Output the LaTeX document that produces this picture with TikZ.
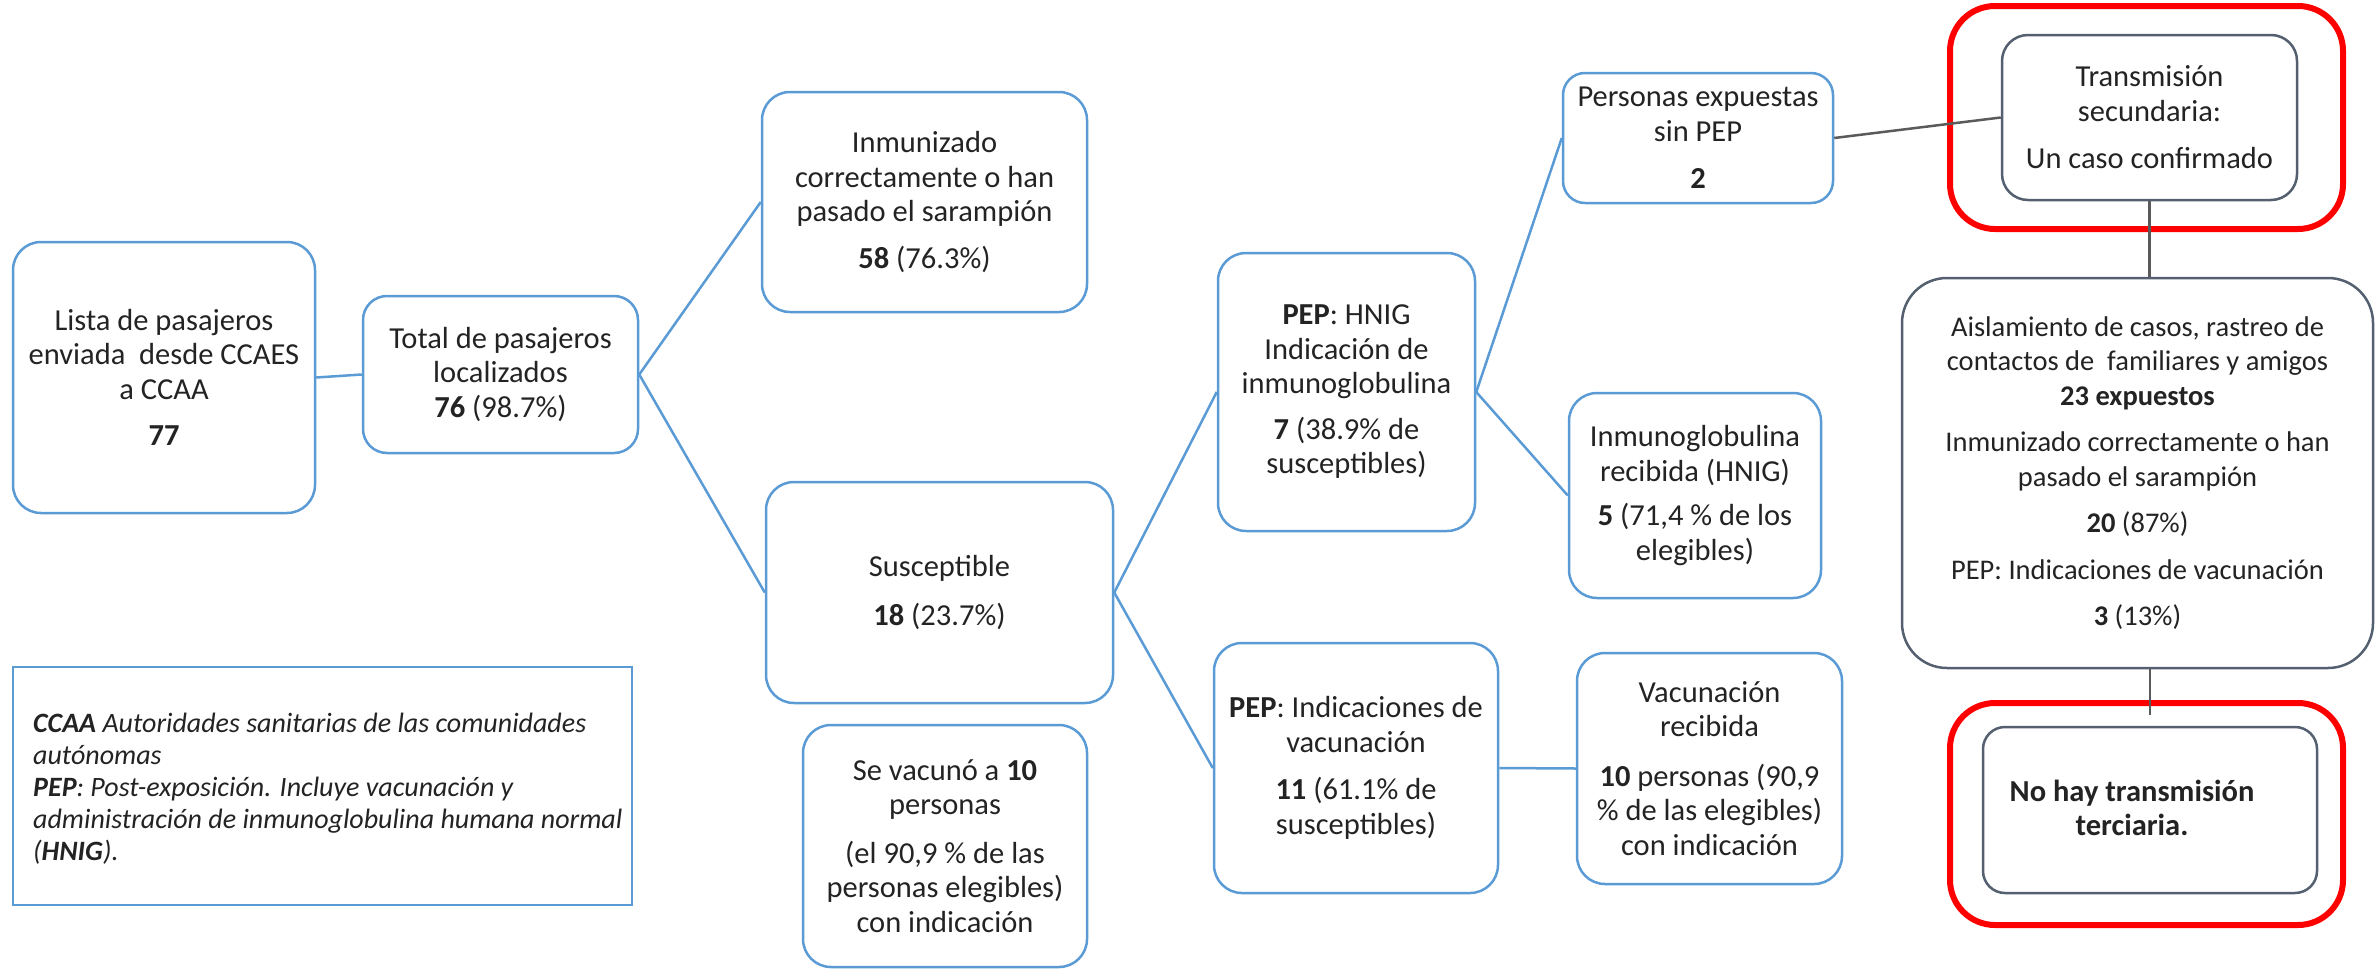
\documentclass[tikz,border=0pt]{standalone}
\usepackage{fontspec}
\setmainfont{Carlito}
\definecolor{bblue}{RGB}{91,155,213}
\definecolor{gbord}{RGB}{84,96,112}
\definecolor{gline}{RGB}{90,90,90}
\definecolor{txt}{RGB}{35,35,35}
\definecolor{rred}{RGB}{255,0,0}
\begin{document}
\begin{tikzpicture}[x=1pt,y=-1pt,
  bx/.style={draw=bblue, line width=2.5pt, rounded corners=28pt, inner sep=0pt, align=center, text=txt, font=\fontsize{30.5pt}{34.5pt}\selectfont},
  gbx/.style={draw=gbord, line width=2.5pt, rounded corners=26pt, inner sep=0pt, align=center, text=txt, font=\fontsize{30.5pt}{34.5pt}\selectfont},
  redbx/.style={draw=rred, line width=6pt, rounded corners=45pt, inner sep=0pt},
  bl/.style={draw=bblue, line width=2.5pt},
  gl/.style={draw=gline, line width=2.5pt},
]
\useasboundingbox (0,0) rectangle (2379,969);

% red highlight frames
\node[redbx, minimum width=393pt, minimum height=223pt] (red1) at (2146.5,117.5) {};
\node[redbx, minimum width=393pt, minimum height=222pt] (red2) at (2146.5,814) {};

% blue boxes
\node[bx, minimum width=302pt, minimum height=271pt] (lista) at (164,377.5)
  {Lista de pasajeros\\enviada\ \ desde CCAES\\a CCAA\\[12pt]\textbf{77}};
\node[bx, rounded corners=24pt, minimum width=275pt, minimum height=157pt] (total) at (500.5,374.5)
  {Total de pasajeros\\localizados\\\textbf{76} (98.7\%)};
\node[bx, minimum width=325pt, minimum height=220pt] (inmun) at (924.5,202)
  {Inmunizado\\correctamente o han\\pasado el sarampión\\[12pt]\textbf{58} (76.3\%)};
\node[bx, minimum width=347pt, minimum height=221pt] (susc) at (939.5,592.5)
  {Susceptible\\[14pt]\textbf{18} (23.7\%)};
\node[bx, minimum width=284pt, minimum height=242pt] (sevac) at (945,846)
  {Se vacunó a \textbf{10}\\personas\\[14pt](el 90,9 \% de las\\personas elegibles)\\con indicación};
\node[bx, minimum width=257pt, minimum height=278pt] (hnig) at (1346.5,392)
  {\textbf{PEP}: HNIG\\Indicación de\\inmunoglobulina\\[11pt]\textbf{7} (38.9\% de\\susceptibles)};
\node[bx, minimum width=284pt, minimum height=250pt] (pepvac) at (1356,768)
  {\textbf{PEP}: Indicaciones de\\vacunación\\[13pt]\textbf{11} (61.1\% de\\susceptibles)};
\node[bx, rounded corners=22pt, minimum width=270pt, minimum height=130pt] (personas) at (1698,138)
  {Personas expuestas\\sin PEP\\[13pt]\textbf{2}};
\node[bx, minimum width=252pt, minimum height=205pt] (igrec) at (1695,495.5)
  {Inmunoglobulina\\recibida (HNIG)\\[10pt]\textbf{5} (71,4 \% de los\\elegibles)};
\node[bx, minimum width=265pt, minimum height=231pt] (vacrec) at (1709.5,768.5)
  {Vacunación\\recibida\\[15pt]\textbf{10} personas (90,9\\\% de las elegibles)\\con indicación};

% grey boxes
\node[gbx, minimum width=295pt, minimum height=165pt] (trans) at (2149.5,117.5)
  {Transmisión\\secundaria:\\[13pt]Un caso confirmado};
\node[gbx, rounded corners=45pt, font=\fontsize{28.5pt}{34.5pt}\selectfont, minimum width=471pt, minimum height=390pt] (aisl) at (2137.5,473)
  {Aislamiento de casos, rastreo de\\contactos de\ \ familiares y amigos\\\textbf{23 expuestos}\\[12pt]Inmunizado correctamente o han\\pasado el sarampión\\[12pt]\textbf{20} (87\%)\\[12pt]PEP: Indicaciones de vacunación\\[12pt]\textbf{3} (13\%)};
\node[gbx, rounded corners=22pt, minimum width=334pt, minimum height=166pt] (nohay) at (2150,810) {};
\node[align=center, text=txt, inner sep=0pt, font=\fontsize{30.5pt}{34.5pt}\selectfont\bfseries] (nohaytxt) at (2132,808)
  {No hay transmisión\\terciaria.};

% legend
\node[draw=bblue, line width=2pt, minimum width=619pt, minimum height=238pt, inner sep=0pt] (legend) at (322.5,786) {};
\node[anchor=west, align=left, text=txt, inner sep=0pt, font=\fontsize{28pt}{32pt}\selectfont\itshape] (legtext) at (33,789)
  {\textbf{CCAA} Autoridades sanitarias de las comunidades\\autónomas\\\textbf{PEP}: Post-exposición. Incluye vacunación y\\administración de inmunoglobulina humana normal\\(\textbf{HNIG}).};

% connectors
\draw[bl] (lista.east) -- (total.west);
\draw[bl] (total.east) -- (inmun.west);
\draw[bl] (total.east) -- (susc.west);
\draw[bl] (susc.east) -- (hnig.west);
\draw[bl] (susc.east) -- (pepvac.west);
\draw[bl] (hnig.east) -- (personas.west);
\draw[bl] (hnig.east) -- (igrec.west);
\draw[bl] (pepvac.east) -- (vacrec.west);
\draw[gl] (personas.east) -- (trans.west);
\draw[gl] (trans.south) -- (trans.south |- aisl.north);
\coordinate (lend) at (2150,715);
\draw[gl] (lend |- aisl.south) -- (lend);
\end{tikzpicture}
\end{document}
